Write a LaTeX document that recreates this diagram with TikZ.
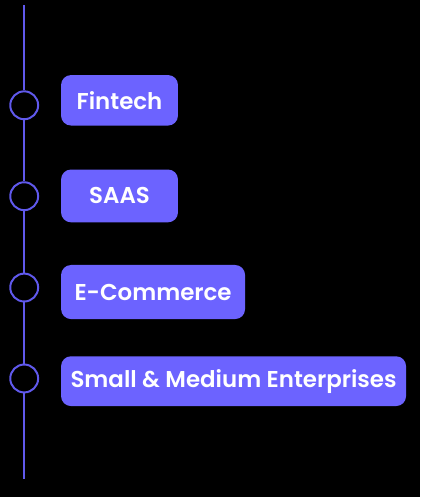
\documentclass[tikz,border=0pt]{standalone}
\usepackage{fontspec}
\setmainfont{Poppins}[BoldFont={Poppins SemiBold}]
\definecolor{boxpurple}{HTML}{6C63FF}
\definecolor{linepurple}{HTML}{6059EC}
\begin{document}
\begin{tikzpicture}[x=1pt,y=-1pt,
  box/.style={fill=boxpurple, rounded corners=10pt, text=white, inner sep=0pt,
    font=\bfseries\fontsize{23}{27}\selectfont},
  dot/.style={circle, draw=linepurple, line width=2pt, fill=black, minimum size=28pt, inner sep=0pt},
  rail/.style={draw=linepurple, line width=2pt}]
\fill[black] (-1,-1) rectangle (421,498);
\useasboundingbox (0,0) rectangle (420,497);
\coordinate (top) at (23.3,4);
\coordinate (bot) at (23.3,479.5);
\node[dot] (c1) at (23.3,104.7) {};
\node[dot] (c2) at (23.3,196) {};
\node[dot] (c3) at (23.3,287.7) {};
\node[dot] (c4) at (23.3,379) {};
\draw[rail] (top) -- (c1) (c1) -- (c2) (c2) -- (c3) (c3) -- (c4) (c4) -- (bot);
\node[box, minimum width=117.4pt, minimum height=50.7pt] (b1) at (119,99.7) {Fintech};
\node[box, minimum width=117.4pt, minimum height=53pt] (b2) at (119,195.7) {SAAS};
\node[box, minimum width=184.7pt, minimum height=54.3pt] (b3) at (152.7,292.2) {E-Commerce};
\node[box, minimum width=346.4pt, minimum height=50pt] (b4) at (233.5,381.7) {Small \& Medium Enterprises};
\end{tikzpicture}
\end{document}
